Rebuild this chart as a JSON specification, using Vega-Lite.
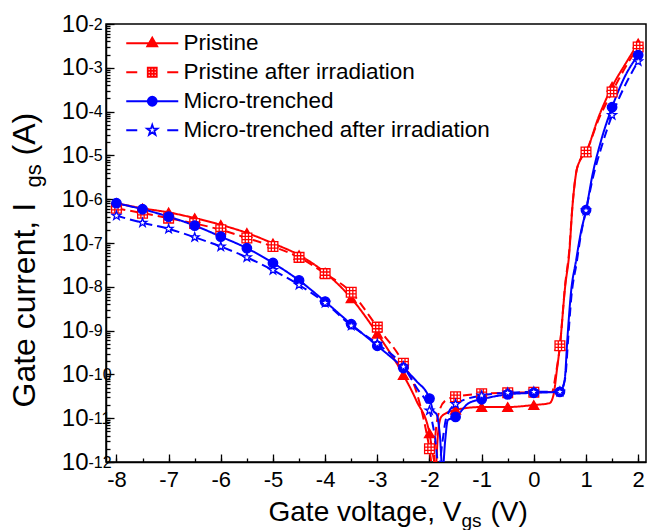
{
  "$schema": "https://vega.github.io/schema/vega-lite/v6.json",
  "autosize": {"type": "none"},
  "padding": {"left": 106, "top": 24, "right": 1, "bottom": 68},
  "width": 540,
  "height": 438,
  "config": {
    "view": {"stroke": "#000", "strokeWidth": 1.5},
    "font": "Liberation Sans",
    "axis": {"labelFont": "Liberation Sans", "titleFont": "Liberation Sans", "labelColor": "#000", "titleColor": "#000", "tickColor": "#000", "domainColor": "#000", "grid": false, "titleFontWeight": "normal", "labelOverlap": false, "labelFlush": false, "labelBound": false, "domainWidth": 1.5, "tickWidth": 1.3}
  },
  "datasets": {
    "curves": [
      {"series": "Pristine", "V": -8, "I": 8.1e-7},
      {"series": "Pristine", "V": -7.5, "I": 6.2e-7},
      {"series": "Pristine", "V": -7, "I": 5.0e-7},
      {"series": "Pristine", "V": -6.5, "I": 3.7e-7},
      {"series": "Pristine", "V": -6, "I": 2.6e-7},
      {"series": "Pristine", "V": -5.5, "I": 1.7e-7},
      {"series": "Pristine", "V": -5, "I": 9.8e-8},
      {"series": "Pristine", "V": -4.5, "I": 5.3e-8},
      {"series": "Pristine", "V": -4, "I": 2.1e-8},
      {"series": "Pristine", "V": -3.5, "I": 5.5e-9},
      {"series": "Pristine", "V": -3, "I": 8.5e-10},
      {"series": "Pristine", "V": -2.5, "I": 9.7e-11},
      {"series": "Pristine", "V": -2.25, "I": 2.5e-11},
      {"series": "Pristine", "V": -2, "I": 4.5e-12},
      {"series": "Pristine", "V": -1.92, "I": 1.2e-12},
      {"series": "Pristine", "V": -1.88, "I": 8e-13},
      {"series": "Pristine", "V": -1.84, "I": 4e-12},
      {"series": "Pristine", "V": -1.78, "I": 1.05e-11},
      {"series": "Pristine", "V": -1.68, "I": 1.3e-11},
      {"series": "Pristine", "V": -1.5, "I": 1.55e-11},
      {"series": "Pristine", "V": -1, "I": 1.8e-11},
      {"series": "Pristine", "V": -0.5, "I": 1.8e-11},
      {"series": "Pristine", "V": 0, "I": 2.0e-11},
      {"series": "Pristine", "V": 0.3, "I": 2.2e-11},
      {"series": "Pristine", "V": 0.38, "I": 3.5e-11},
      {"series": "Pristine", "V": 0.44, "I": 1.2e-10},
      {"series": "Pristine", "V": 0.5, "I": 4.5e-10},
      {"series": "Pristine", "V": 0.6, "I": 1e-8},
      {"series": "Pristine", "V": 0.68, "I": 6e-8},
      {"series": "Pristine", "V": 0.74, "I": 6.8e-7},
      {"series": "Pristine", "V": 0.81, "I": 3.9e-6},
      {"series": "Pristine", "V": 0.88, "I": 7.5e-6},
      {"series": "Pristine", "V": 1, "I": 1.2e-5},
      {"series": "Pristine", "V": 1.25, "I": 8e-5},
      {"series": "Pristine", "V": 1.5, "I": 3.7e-4},
      {"series": "Pristine", "V": 1.75, "I": 1.2e-3},
      {"series": "Pristine", "V": 2, "I": 3.6e-3},
      {"series": "Pristine after irradiation", "V": -8, "I": 6.2e-7},
      {"series": "Pristine after irradiation", "V": -7.5, "I": 4.8e-7},
      {"series": "Pristine after irradiation", "V": -7, "I": 3.7e-7},
      {"series": "Pristine after irradiation", "V": -6.5, "I": 2.8e-7},
      {"series": "Pristine after irradiation", "V": -6, "I": 2.0e-7},
      {"series": "Pristine after irradiation", "V": -5.5, "I": 1.3e-7},
      {"series": "Pristine after irradiation", "V": -5, "I": 8.3e-8},
      {"series": "Pristine after irradiation", "V": -4.5, "I": 4.7e-8},
      {"series": "Pristine after irradiation", "V": -4, "I": 2.0e-8},
      {"series": "Pristine after irradiation", "V": -3.5, "I": 7.5e-9},
      {"series": "Pristine after irradiation", "V": -3, "I": 1.2e-9},
      {"series": "Pristine after irradiation", "V": -2.5, "I": 1.8e-10},
      {"series": "Pristine after irradiation", "V": -2.25, "I": 4e-11},
      {"series": "Pristine after irradiation", "V": -2, "I": 2e-12},
      {"series": "Pristine after irradiation", "V": -1.93, "I": 6e-13},
      {"series": "Pristine after irradiation", "V": -1.88, "I": 5e-12},
      {"series": "Pristine after irradiation", "V": -1.8, "I": 1.6e-11},
      {"series": "Pristine after irradiation", "V": -1.7, "I": 2.5e-11},
      {"series": "Pristine after irradiation", "V": -1.5, "I": 3.1e-11},
      {"series": "Pristine after irradiation", "V": -1, "I": 3.6e-11},
      {"series": "Pristine after irradiation", "V": -0.5, "I": 3.8e-11},
      {"series": "Pristine after irradiation", "V": 0, "I": 3.9e-11},
      {"series": "Pristine after irradiation", "V": 0.35, "I": 4e-11},
      {"series": "Pristine after irradiation", "V": 0.42, "I": 1e-10},
      {"series": "Pristine after irradiation", "V": 0.5, "I": 4.5e-10},
      {"series": "Pristine after irradiation", "V": 0.6, "I": 1.1e-8},
      {"series": "Pristine after irradiation", "V": 0.68, "I": 7e-8},
      {"series": "Pristine after irradiation", "V": 0.74, "I": 7e-7},
      {"series": "Pristine after irradiation", "V": 0.81, "I": 4e-6},
      {"series": "Pristine after irradiation", "V": 0.88, "I": 7.5e-6},
      {"series": "Pristine after irradiation", "V": 1, "I": 1.2e-5},
      {"series": "Pristine after irradiation", "V": 1.25, "I": 7e-5},
      {"series": "Pristine after irradiation", "V": 1.5, "I": 2.8e-4},
      {"series": "Pristine after irradiation", "V": 1.75, "I": 1e-3},
      {"series": "Pristine after irradiation", "V": 2, "I": 3.0e-3},
      {"series": "Micro-trenched", "V": -8, "I": 8.1e-7},
      {"series": "Micro-trenched", "V": -7.5, "I": 5.9e-7},
      {"series": "Micro-trenched", "V": -7, "I": 4.0e-7},
      {"series": "Micro-trenched", "V": -6.5, "I": 2.5e-7},
      {"series": "Micro-trenched", "V": -6, "I": 1.4e-7},
      {"series": "Micro-trenched", "V": -5.5, "I": 7.6e-8},
      {"series": "Micro-trenched", "V": -5, "I": 3.5e-8},
      {"series": "Micro-trenched", "V": -4.5, "I": 1.4e-8},
      {"series": "Micro-trenched", "V": -4, "I": 4.6e-9},
      {"series": "Micro-trenched", "V": -3.5, "I": 1.4e-9},
      {"series": "Micro-trenched", "V": -3, "I": 4.5e-10},
      {"series": "Micro-trenched", "V": -2.5, "I": 1.4e-10},
      {"series": "Micro-trenched", "V": -2.25, "I": 7e-11},
      {"series": "Micro-trenched", "V": -2, "I": 2.8e-11},
      {"series": "Micro-trenched", "V": -1.93, "I": 1.5e-11},
      {"series": "Micro-trenched", "V": -1.86, "I": 1.2e-11},
      {"series": "Micro-trenched", "V": -1.8, "I": 4e-12},
      {"series": "Micro-trenched", "V": -1.75, "I": 6e-13},
      {"series": "Micro-trenched", "V": -1.7, "I": 3e-12},
      {"series": "Micro-trenched", "V": -1.65, "I": 9e-12},
      {"series": "Micro-trenched", "V": -1.5, "I": 1.07e-11},
      {"series": "Micro-trenched", "V": -1.25, "I": 2.2e-11},
      {"series": "Micro-trenched", "V": -1, "I": 2.7e-11},
      {"series": "Micro-trenched", "V": -0.5, "I": 3.5e-11},
      {"series": "Micro-trenched", "V": 0, "I": 3.8e-11},
      {"series": "Micro-trenched", "V": 0.5, "I": 4.0e-11},
      {"series": "Micro-trenched", "V": 0.59, "I": 7.4e-11},
      {"series": "Micro-trenched", "V": 0.645, "I": 7e-10},
      {"series": "Micro-trenched", "V": 0.71, "I": 7e-9},
      {"series": "Micro-trenched", "V": 0.81, "I": 4e-8},
      {"series": "Micro-trenched", "V": 0.9, "I": 1.7e-7},
      {"series": "Micro-trenched", "V": 1, "I": 5.6e-7},
      {"series": "Micro-trenched", "V": 1.13, "I": 3.9e-6},
      {"series": "Micro-trenched", "V": 1.29, "I": 2.2e-5},
      {"series": "Micro-trenched", "V": 1.5, "I": 1.26e-4},
      {"series": "Micro-trenched", "V": 1.75, "I": 6.5e-4},
      {"series": "Micro-trenched", "V": 2, "I": 1.95e-3},
      {"series": "Micro-trenched after irradiation", "V": -8, "I": 4.2e-7},
      {"series": "Micro-trenched after irradiation", "V": -7.5, "I": 2.9e-7},
      {"series": "Micro-trenched after irradiation", "V": -7, "I": 2.1e-7},
      {"series": "Micro-trenched after irradiation", "V": -6.5, "I": 1.35e-7},
      {"series": "Micro-trenched after irradiation", "V": -6, "I": 8.3e-8},
      {"series": "Micro-trenched after irradiation", "V": -5.5, "I": 4.7e-8},
      {"series": "Micro-trenched after irradiation", "V": -5, "I": 2.4e-8},
      {"series": "Micro-trenched after irradiation", "V": -4.5, "I": 1.1e-8},
      {"series": "Micro-trenched after irradiation", "V": -4, "I": 4.3e-9},
      {"series": "Micro-trenched after irradiation", "V": -3.5, "I": 1.3e-9},
      {"series": "Micro-trenched after irradiation", "V": -3, "I": 5e-10},
      {"series": "Micro-trenched after irradiation", "V": -2.5, "I": 1.5e-10},
      {"series": "Micro-trenched after irradiation", "V": -2.25, "I": 5e-11},
      {"series": "Micro-trenched after irradiation", "V": -2, "I": 1.5e-11},
      {"series": "Micro-trenched after irradiation", "V": -1.9, "I": 4e-12},
      {"series": "Micro-trenched after irradiation", "V": -1.82, "I": 8e-13},
      {"series": "Micro-trenched after irradiation", "V": -1.75, "I": 3e-12},
      {"series": "Micro-trenched after irradiation", "V": -1.68, "I": 1e-11},
      {"series": "Micro-trenched after irradiation", "V": -1.5, "I": 2.1e-11},
      {"series": "Micro-trenched after irradiation", "V": -1, "I": 3.3e-11},
      {"series": "Micro-trenched after irradiation", "V": -0.5, "I": 3.8e-11},
      {"series": "Micro-trenched after irradiation", "V": 0, "I": 4.0e-11},
      {"series": "Micro-trenched after irradiation", "V": 0.5, "I": 4.0e-11},
      {"series": "Micro-trenched after irradiation", "V": 0.6, "I": 8e-11},
      {"series": "Micro-trenched after irradiation", "V": 0.66, "I": 7e-10},
      {"series": "Micro-trenched after irradiation", "V": 0.72, "I": 6e-9},
      {"series": "Micro-trenched after irradiation", "V": 0.82, "I": 3.5e-8},
      {"series": "Micro-trenched after irradiation", "V": 0.9, "I": 1.5e-7},
      {"series": "Micro-trenched after irradiation", "V": 1, "I": 5.5e-7},
      {"series": "Micro-trenched after irradiation", "V": 1.13, "I": 3e-6},
      {"series": "Micro-trenched after irradiation", "V": 1.3, "I": 1.6e-5},
      {"series": "Micro-trenched after irradiation", "V": 1.5, "I": 8.3e-5},
      {"series": "Micro-trenched after irradiation", "V": 1.75, "I": 4e-4},
      {"series": "Micro-trenched after irradiation", "V": 2, "I": 1.4e-3}
    ]
  },
  "data": {"name": "curves"},
  "resolve": {"axis": {"x": "independent", "y": "independent"}},
  "layer": [
    {
      "mark": {"type": "line", "strokeWidth": 2, "interpolate": "monotone", "clip": true},
      "encoding": {
        "x": {"field": "V", "type": "quantitative", "scale": {"domain": [-8.2, 2.15], "nice": false, "zero": false},
          "axis": {"orient": "bottom", "values": [-8, -7, -6, -5, -4, -3, -2, -1, 0, 1, 2], "labelExpr": "'' + datum.value", "labelFontSize": 22, "labelPadding": 15, "tickSize": -8,
            "title": "Gate voltage, V", "titleFontSize": 28, "titleX": 162, "titleY": 58, "titleAlign": "left", "titleBaseline": "alphabetic"}},
        "y": {"field": "I", "type": "quantitative", "scale": {"type": "log", "domain": [1e-12, 1e-2], "nice": false},
          "axis": {"orient": "left", "values": [1e-12, 1e-11, 1e-10, 1e-9, 1e-8, 1e-7, 1e-6, 1e-5, 1e-4, 1e-3, 1e-2], "labelExpr": "'10'", "labelFontSize": 24, "labelAlign": "right", "labelBaseline": "middle", "labelDy": 2, "labelPadding": 26, "tickSize": -8,
            "title": "Gate current, I", "titleFontSize": 32, "titleAngle": -90, "titleX": -72, "titleY": 383, "titleAlign": "left", "titleBaseline": "alphabetic"}},
        "color": {"field": "series", "type": "nominal", "legend": null,
          "scale": {"domain": ["Pristine", "Pristine after irradiation", "Micro-trenched", "Micro-trenched after irradiation"], "range": ["#ff0000", "#ff0000", "#0000ff", "#0000ff"]}},
        "strokeDash": {"field": "series", "type": "nominal", "legend": null,
          "scale": {"domain": ["Pristine", "Pristine after irradiation", "Micro-trenched", "Micro-trenched after irradiation"], "range": [[1, 0], [9, 5], [1, 0], [9, 5]]}},
        "opacity": {"field": "series", "type": "nominal",
          "scale": {"domain": ["Pristine", "Pristine after irradiation", "Micro-trenched", "Micro-trenched after irradiation", "-"], "range": [1, 1, 1, 1, 1]},
          "legend": {"orient": "none", "legendX": 35, "legendY": 8, "title": null, "padding": 0, "values": ["Pristine", "Pristine after irradiation", "Micro-trenched", "Micro-trenched after irradiation"],
            "labelFontSize": 22.5, "labelFont": "Liberation Sans", "labelColor": "#000", "labelOffset": 20, "labelLimit": 0, "symbolSize": 400, "symbolStrokeWidth": 1.8, "rowPadding": 6,
            "encode": {"symbols": {"update": {
              "shape": {"signal": "datum.value === 'Pristine' ? 'M-2.6,0L2.6,0M-0.5,0.3L0,-0.57L0.5,0.3Z' : datum.value === 'Pristine after irradiation' ? 'M-2.6,0L-1.5,0M1.5,0L2.6,0M-0.45,-0.45L0.45,-0.45L0.45,0.45L-0.45,0.45ZM-0.15,-0.45L-0.15,0.45M0.15,-0.45L0.15,0.45M-0.45,-0.15L0.45,-0.15M-0.45,0.15L0.45,0.15' : datum.value === 'Micro-trenched' ? 'M-2.6,0L2.6,0M-0.45,0A0.45,0.45,0,1,0,0.45,0A0.45,0.45,0,1,0,-0.45,0Z' : 'M-2.6,0L-1.5,0M1.5,0L2.6,0M0,-0.55L0.129,-0.178L0.523,-0.17L0.209,0.068L0.323,0.445L0,0.22L-0.323,0.445L-0.209,0.068L-0.523,-0.17L-0.129,-0.178Z'"},
              "fill": {"signal": "datum.value === 'Pristine' ? '#ff0000' : datum.value === 'Micro-trenched' ? '#0000ff' : '#ffffff'"},
              "stroke": {"signal": "indexof(datum.value, 'Pristine') === 0 ? '#ff0000' : '#0000ff'"},
              "strokeWidth": {"value": 1.8}
            }}}}}
      }
    },
    {
      "transform": [{"filter": "datum.V * 2 === round(datum.V * 2)"}],
      "mark": {"type": "point", "strokeWidth": 1.3, "opacity": 1, "fillOpacity": 1, "clip": true},
      "encoding": {
        "x": {"field": "V", "type": "quantitative",
          "axis": {"orient": "bottom", "values": [-8, -7.5, -7, -6.5, -6, -5.5, -5, -4.5, -4, -3.5, -3, -2.5, -2, -1.5, -1, -0.5, 0, 0.5, 1, 1.5, 2], "labels": false, "domain": false, "tickSize": -4,
            "title": "gs", "titleFontSize": 19, "titleX": 355, "titleY": 64, "titleAlign": "left", "titleBaseline": "alphabetic"}},
        "y": {"field": "I", "type": "quantitative",
          "axis": {"orient": "left", "domain": false, "tickSize": -4,
            "values": [1e-12, 2e-12, 3e-12, 4e-12, 5e-12, 6e-12, 7e-12, 8e-12, 9e-12, 1e-11, 2e-11, 3e-11, 4e-11, 5e-11, 6e-11, 7e-11, 8e-11, 9e-11, 1e-10, 2e-10, 3e-10, 4e-10, 5e-10, 6e-10, 7e-10, 8e-10, 9e-10, 1e-9, 2e-9, 3e-9, 4e-9, 5e-9, 6e-9, 7e-9, 8e-9, 9e-9, 1e-8, 2e-8, 3e-8, 4e-8, 5e-8, 6e-8, 7e-8, 8e-8, 9e-8, 1e-7, 2e-7, 3e-7, 4e-7, 5e-7, 6e-7, 7e-7, 8e-7, 9e-7, 1e-6, 2e-6, 3e-6, 4e-6, 5e-6, 6e-6, 7e-6, 8e-6, 9e-6, 1e-5, 2e-5, 3e-5, 4e-5, 5e-5, 6e-5, 7e-5, 8e-5, 9e-5, 1e-4, 2e-4, 3e-4, 4e-4, 5e-4, 6e-4, 7e-4, 8e-4, 9e-4, 1e-3, 2e-3, 3e-3, 4e-3, 5e-3, 6e-3, 7e-3, 8e-3, 9e-3, 1e-2],
            "labelExpr": "abs(log(datum.value)/LN10 - round(log(datum.value)/LN10)) < 0.01 ? '' + round(log(datum.value)/LN10) : ''",
            "labelFontSize": 16, "labelAlign": "left", "labelBaseline": "middle", "labelDy": -8, "labelPadding": 22,
            "title": "gs", "titleFontSize": 22, "titleAngle": -90, "titleX": -66, "titleY": 163, "titleAlign": "left", "titleBaseline": "alphabetic"}},
        "shape": {"field": "series", "type": "nominal", "legend": null,
          "scale": {"domain": ["Pristine", "Pristine after irradiation", "Micro-trenched", "Micro-trenched after irradiation"],
            "range": ["triangle-up", "M-1,-1L1,-1L1,1L-1,1ZM-0.333,-1L-0.333,1M0.333,-1L0.333,1M-1,-0.333L1,-0.333M-1,0.333L1,0.333", "circle", "M0,-1L0.235,-0.324L0.951,-0.309L0.38,0.124L0.588,0.809L0,0.4L-0.588,0.809L-0.38,0.124L-0.951,-0.309L-0.235,-0.324Z"]}},
        "stroke": {"field": "series", "type": "nominal", "legend": null,
          "scale": {"domain": ["Pristine", "Pristine after irradiation", "Micro-trenched", "Micro-trenched after irradiation"], "range": ["#ff0000", "#ff0000", "#0000ff", "#0000ff"]}},
        "fill": {"field": "series", "type": "nominal", "legend": null,
          "scale": {"domain": ["Pristine", "Pristine after irradiation", "Micro-trenched", "Micro-trenched after irradiation"], "range": ["#ff0000", "#ffffff", "#0000ff", "#ffffff"]}},
        "size": {"field": "series", "type": "nominal", "legend": null,
          "scale": {"domain": ["Pristine", "Pristine after irradiation", "Micro-trenched", "Micro-trenched after irradiation"], "range": [100, 85, 80, 120]}}
      }
    },
    {
      "mark": {"type": "point", "opacity": 0},
      "encoding": {
        "x": {"field": "V", "type": "quantitative",
          "axis": {"orient": "bottom", "labels": false, "ticks": false, "domain": false,
            "title": "(V)", "titleFontSize": 28, "titleX": 384, "titleY": 58, "titleAlign": "left", "titleBaseline": "alphabetic"}},
        "y": {"field": "I", "type": "quantitative",
          "axis": {"orient": "left", "labels": false, "ticks": false, "domain": false,
            "title": "(A)", "titleFontSize": 32, "titleAngle": -90, "titleX": -72, "titleY": 131, "titleAlign": "left", "titleBaseline": "alphabetic"}}
      }
    }
  ]
}
